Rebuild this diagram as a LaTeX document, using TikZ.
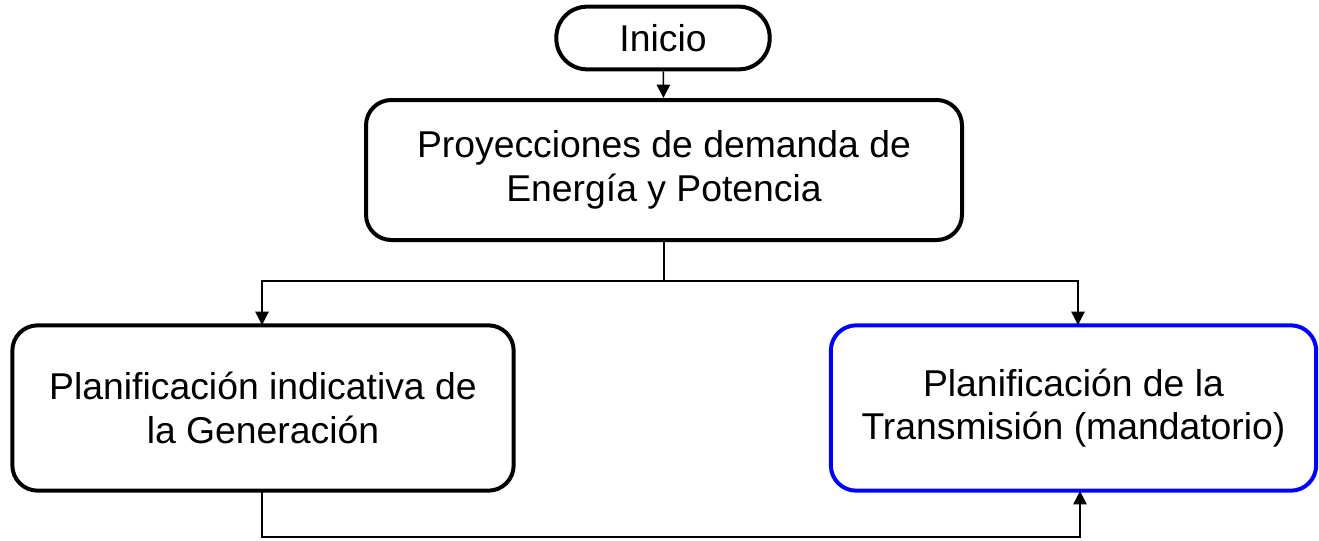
\documentclass[tikz,border=0pt]{standalone}
\usepackage{fontspec}
\setmainfont{Liberation Sans}
\usetikzlibrary{arrows.meta}

\begin{document}
\begin{tikzpicture}[
            x = 0.75pt, y = -0.75pt, % one unit = one pixel of the sketch
            >= {Triangle[length=10pt,width=10pt]}, % arrow head style
            line width = 1.1pt % connector line style
        ]

        \tikzstyle{every flowbox}=[
            draw = black,
            line width = 3pt,
            rounded corners = 19pt,
            align = center,
            font = \fontsize{28}{32.5}\selectfont
        ]
        \tikzstyle{flowbox}=[every flowbox]

\useasboundingbox (0,0) rectangle (1319,540);

\node[flowbox, rounded corners=23pt, minimum width=160pt, minimum height=47pt] (inicio) at (663,38) {Inicio};
\node[flowbox, minimum width=447pt, minimum height=105pt] (demanda) at (664,170) {Proyecciones de demanda de\\Energía y Potencia};
\node[flowbox, minimum width=376pt, minimum height=124pt] (generacion) at (263,408) {Planificación indicativa de\\la Generación};
\node[flowbox, draw=blue, minimum width=364pt, minimum height=124pt] (transmision) at (1073.5,408) {Planificación de la\\Transmisión (mandatorio)};

\coordinate (split) at (664,281);
\coordinate (genin) at (262,325);
\coordinate (trin) at (1078,325);
\coordinate (genout) at (262,491);
\coordinate (trout) at (1080,491);
\coordinate (base) at (0,537);

 \draw [->] (inicio) -- (demanda);
 \draw (demanda) -- (split);
 \draw [->] (split) -| (genin);
 \draw [->] (split) -| (trin);
 \draw [->] (genout) -- (genout |- base) -| (trout);
\end{tikzpicture}
\end{document}
